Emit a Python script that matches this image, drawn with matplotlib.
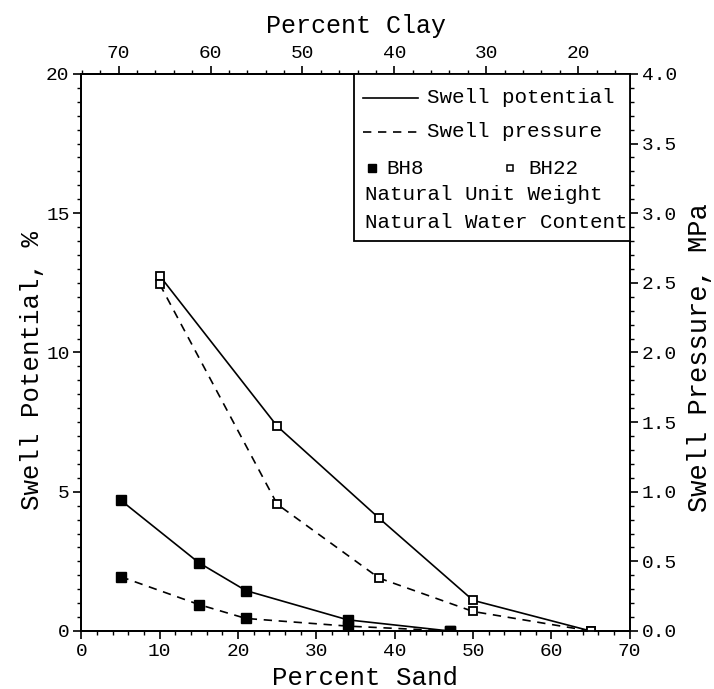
import numpy as np
import matplotlib
matplotlib.use("Agg")
import matplotlib.pyplot as plt
from matplotlib.ticker import MultipleLocator, FormatStrFormatter
from matplotlib.lines import Line2D
from matplotlib.patches import Rectangle

plt.rcParams['font.family'] = ['Liberation Mono', 'DejaVu Sans']

# borehole BH8
bh8_sand = [5, 15, 21, 34, 47]
bh8_potential = [4.7, 2.45, 1.45, 0.4, 0.0]      # swell potential, %
bh8_pressure = [0.39, 0.19, 0.09, 0.035, 0.0]    # swell pressure, MPa

# borehole BH22
bh22_sand = [10, 25, 38, 50, 65]
bh22_potential = [12.75, 7.35, 4.05, 1.1, 0.0]
bh22_pressure = [2.49, 0.91, 0.38, 0.14, 0.0]

clay_ticks = [70, 60, 50, 40, 30, 20]

# clay content falls linearly as the sand fraction goes up
CLAY0 = 74.06
SLOPE = 1.173


def sand_to_clay(s):
    return CLAY0 - np.asarray(s) / SLOPE


def clay_to_sand(c):
    return (CLAY0 - np.asarray(c)) * SLOPE


fig = plt.figure(figsize=(7.14, 6.89), dpi=100)
ax = fig.add_axes([0.114, 0.0842, 0.768, 0.8085])
ax2 = ax.twinx()

lw = 1.2
ax.plot(bh8_sand, bh8_potential, '-', color='black', lw=lw,
        marker='s', ms=6.5, mfc='black', mec='black')
ax.plot(bh22_sand, bh22_potential, '-', color='black', lw=lw,
        marker='s', ms=6.3, mfc='white', mec='black', mew=1.3)
ax2.plot(bh8_sand, bh8_pressure, color='black', lw=lw, dashes=(5, 4),
         marker='s', ms=6.5, mfc='black', mec='black')
ax2.plot(bh22_sand, bh22_pressure, color='black', lw=lw, dashes=(5, 4),
         marker='s', ms=6.3, mfc='white', mec='black', mew=1.3)

ax.set_xlim(0, 70)
ax.set_ylim(0, 20)
ax2.set_ylim(0, 4.0)

ax.xaxis.set_major_locator(MultipleLocator(10))
ax.xaxis.set_minor_locator(MultipleLocator(2))
ax.yaxis.set_major_locator(MultipleLocator(5))
ax.yaxis.set_minor_locator(MultipleLocator(0.5))
ax2.yaxis.set_major_locator(MultipleLocator(0.5))
ax2.yaxis.set_minor_locator(MultipleLocator(0.1))
ax2.yaxis.set_major_formatter(FormatStrFormatter('%.1f'))

top = ax.secondary_xaxis('top', functions=(sand_to_clay, clay_to_sand))
top.set_xticks(clay_ticks)
top.xaxis.set_minor_locator(MultipleLocator(2))

for a in (ax, ax2):
    for sp in a.spines.values():
        sp.set_linewidth(1.3)
top.spines['top'].set_linewidth(1.3)

major_kw = dict(direction='out', length=5.5, width=1.2, labelsize=14, pad=3)
minor_kw = dict(direction='out', length=3, width=1.0)
ax.tick_params(axis='both', which='major', **major_kw)
ax.tick_params(axis='both', which='minor', **minor_kw)
ax2.tick_params(axis='y', which='major', **major_kw)
ax2.tick_params(axis='y', which='minor', **minor_kw)
top.tick_params(axis='x', which='major', **major_kw)
top.tick_params(axis='x', which='minor', **minor_kw)

ax.set_xlabel('Percent Sand', fontsize=18.5)
ax.xaxis.set_label_coords(0.517, -0.063)
top.set_xlabel('Percent Clay', fontsize=18, labelpad=9)
ax.set_ylabel('Swell Potential, %', fontsize=18.5)
ax.yaxis.set_label_coords(-0.068, 0.468)
ax2.set_ylabel('Swell Pressure, MPa', fontsize=19.5)
ax2.yaxis.set_label_coords(1.104, 0.49)

# legend box in the upper right corner
box = Rectangle((0.497, 0.700), 0.503, 0.300, transform=ax.transAxes,
                facecolor='white', edgecolor='black', lw=1.3, zorder=5)
ax2.add_patch(box)
fs = 15
ax2.add_line(Line2D([0.513, 0.614], [0.957, 0.957], transform=ax.transAxes,
                    color='black', lw=lw, zorder=6))
ax2.text(0.630, 0.957, 'Swell potential', transform=ax.transAxes,
         fontsize=fs, va='center', zorder=6)
ax2.add_line(Line2D([0.513, 0.614], [0.896, 0.896], transform=ax.transAxes,
                    color='black', lw=lw, dashes=(5, 4), zorder=6))
ax2.text(0.630, 0.896, 'Swell pressure', transform=ax.transAxes,
         fontsize=fs, va='center', zorder=6)
ax2.add_line(Line2D([0.530], [0.831], transform=ax.transAxes, ls='none',
                    marker='s', ms=5.5, mfc='black', mec='black', zorder=6))
ax2.text(0.557, 0.831, 'BH8', transform=ax.transAxes,
         fontsize=fs, va='center', zorder=6)
ax2.add_line(Line2D([0.781], [0.831], transform=ax.transAxes, ls='none',
                    marker='s', ms=5, mfc='white', mec='black', mew=1.1, zorder=6))
ax2.text(0.816, 0.831, 'BH22', transform=ax.transAxes,
         fontsize=fs, va='center', zorder=6)
ax2.text(0.518, 0.783, 'Natural Unit Weight', transform=ax.transAxes,
         fontsize=fs, va='center', zorder=6)
ax2.text(0.518, 0.734, 'Natural Water Content', transform=ax.transAxes,
         fontsize=fs, va='center', zorder=6)

fig.savefig('out.png', dpi=100)
